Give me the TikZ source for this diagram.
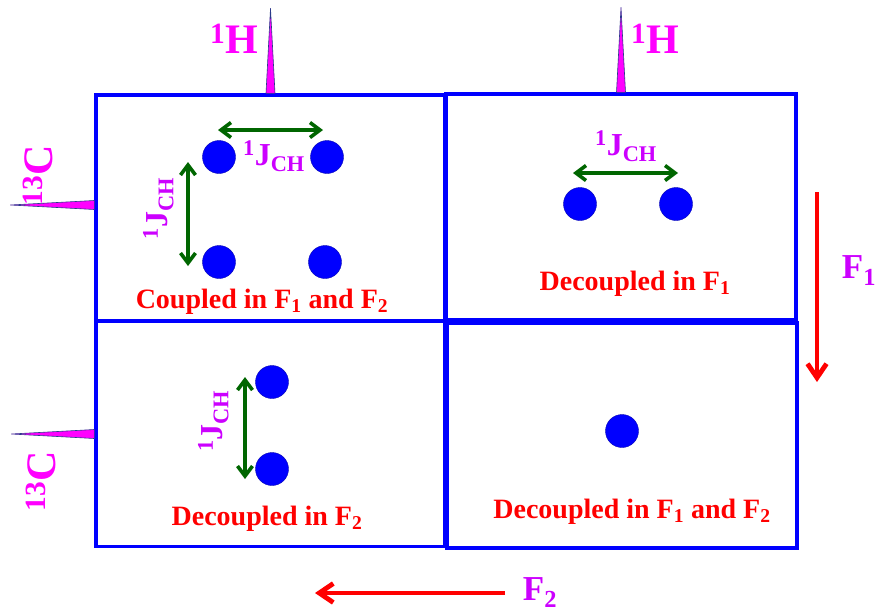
\documentclass[tikz,border=0pt]{standalone}
\usepackage{fontspec}
\setmainfont{Liberation Serif}
\usetikzlibrary{arrows.meta,calc}

\definecolor{nmrmag}{HTML}{FF00FF}
\definecolor{nmrviolet}{HTML}{CC00FF}
\definecolor{nmrgreen}{HTML}{006600}
\definecolor{nmrnavy}{HTML}{2A3A8A}

\begin{document}
\begin{tikzpicture}[x=1pt, y=-1pt,
    panel/.style={draw=blue, line width=3.3pt, inner sep=0pt, minimum width=349pt, minimum height=226pt},
    spot/.style={circle, fill=blue, draw=blue!70!black, line width=0.4pt, minimum size=33pt, inner sep=0pt},
    nuc/.style={anchor=base, text=nmrmag, inner sep=0pt, font=\fontsize{42}{46}\selectfont\bfseries},
    jlab/.style={anchor=base, text=nmrviolet, inner sep=0pt, font=\fontsize{32}{36}\selectfont\bfseries},
    capt/.style={anchor=base, text=red, inner sep=0pt, font=\fontsize{28}{32}\selectfont\bfseries},
    flab/.style={anchor=base, text=nmrviolet, inner sep=0pt, font=\fontsize{35}{40}\selectfont\bfseries},
    jarr/.style={{Straight Barb[length=10pt,width=15pt]}-{Straight Barb[length=10pt,width=15pt]}, line width=3.6pt, draw=nmrgreen},
    farr/.style={-{Straight Barb[length=14pt,width=19pt]}, line width=4.8pt, draw=red},
    peak/.style={fill=nmrmag, draw=nmrnavy, line width=0.6pt, line join=round}
]
\useasboundingbox (0,0) rectangle (878,614);

\node[panel] (TL) at (270.5,208) {};
\node[panel, minimum width=350pt] (TR) at (621,207) {};
\node[panel, minimum height=225pt] (BL) at (270.5,434) {};
\node[panel, minimum width=350pt, minimum height=225pt] (BR) at (622,435.5) {};

\draw[peak] ($(TL.north)+(-4.5,0)$) -- ($(TL.north)+(0,-85)$) -- ($(TL.north)+(4.5,0)$) -- cycle;
\draw[peak] ($(TR.north)+(-4.5,0)$) -- ($(TR.north)+(0,-85)$) -- ($(TR.north)+(4.5,0)$) -- cycle;
\draw[peak] ($(TL.west)+(0,-7.5)$) -- ($(TL.west)+(-84,-3)$) -- ($(TL.west)+(0,1.5)$) -- cycle;
\draw[peak] ($(BL.west)+(0,-4.5)$) -- ($(BL.west)+(-83,0)$) -- ($(BL.west)+(0,4.5)$) -- cycle;

\node[nuc] (H1a) at (234,53) {\textsuperscript{1}H};
\node[nuc] (H1b) at (655,53) {\textsuperscript{1}H};
\node[nuc, rotate=90] (C13a) at (52,175) {\textsuperscript{13}C};
\node[nuc, rotate=90] (C13b) at (55,481) {\textsuperscript{13}C};

\node[spot] (d1) at (219,157) {};
\node[spot] (d2) at (327,157) {};
\node[spot] (d3) at (219,262) {};
\node[spot] (d4) at (325,262) {};
\node[spot] (e1) at (580,204) {};
\node[spot] (e2) at (676,204) {};
\node[spot] (g1) at (272,382) {};
\node[spot] (g2) at (272,469) {};
\node[spot] (h1) at (622,431) {};

\coordinate (ja) at (218,130);
\coordinate (jb) at (323,130);
\coordinate (jc) at (188,162);
\coordinate (jd) at (188,266);
\coordinate (je) at (573,173);
\coordinate (jf) at (678,173);
\coordinate (jg) at (245,377);
\coordinate (jh) at (245,479);

\draw[jarr] (ja) -- (jb);
\draw[jarr] (jc) -- (jd);
\draw[jarr] (je) -- (jf);
\draw[jarr] (jg) -- (jh);

\node[jlab] (Ja) at (274,165) {\textsuperscript{1}J\textsubscript{CH}};
\node[jlab, rotate=90] (Jb) at (167,208.5) {\textsuperscript{1}J\textsubscript{CH}};
\node[jlab] (Jc) at (626,155) {\textsuperscript{1}J\textsubscript{CH}};
\node[jlab, rotate=90] (Jd) at (222,421) {\textsuperscript{1}J\textsubscript{CH}};

\node[capt] (capa) at (262,308) {Coupled in F\textsubscript{1} and F\textsubscript{2}};
\node[capt] (capb) at (635,290) {Decoupled in F\textsubscript{1}};
\node[capt] (capc) at (267,525) {Decoupled in F\textsubscript{2}};
\node[capt] (capd) at (632,518) {Decoupled in F\textsubscript{1} and F\textsubscript{2}};

\coordinate (fa) at (817,192);
\coordinate (fb) at (817,382);
\coordinate (fc) at (505,593);
\coordinate (fd) at (315,593);

\draw[farr] (fa) -- (fb);
\draw[farr] (fc) -- (fd);

\node[flab] (F1) at (859,278) {F\textsubscript{1}};
\node[flab] (F2) at (540,600) {F\textsubscript{2}};
\end{tikzpicture}
\end{document}
